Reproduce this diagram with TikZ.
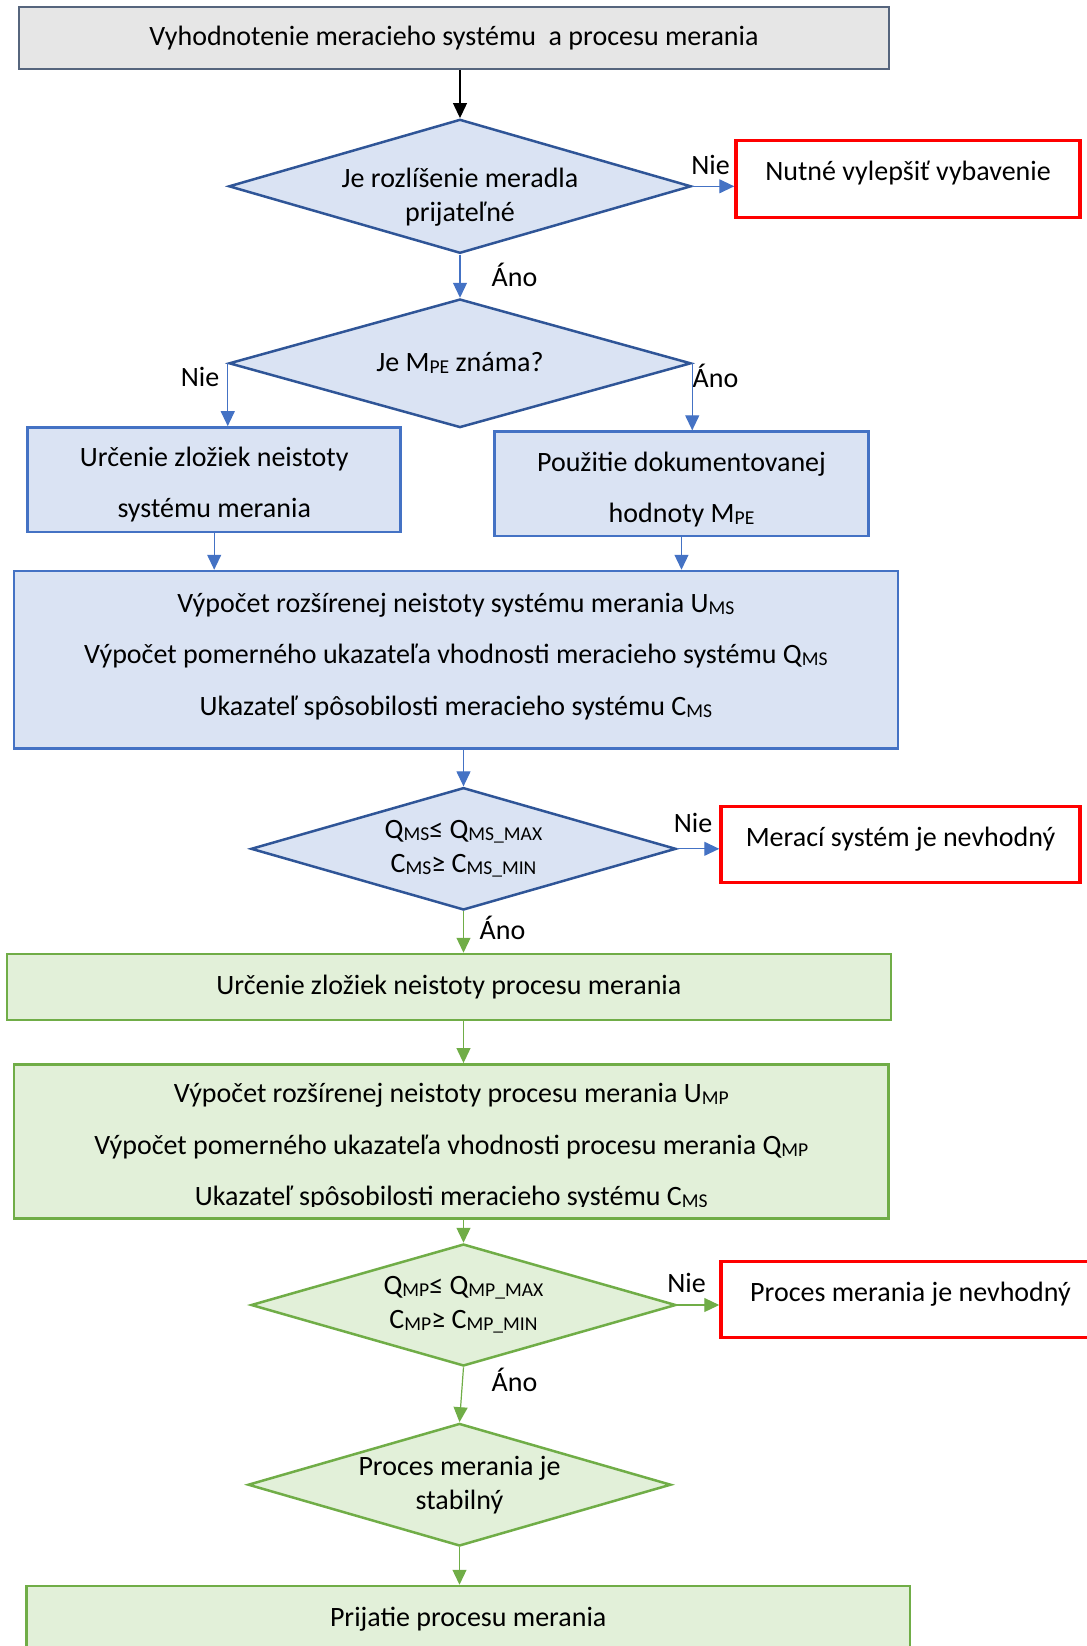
\documentclass[tikz,border=0pt]{standalone}
\usepackage{fontspec}
\setmainfont{Carlito}
\usepackage{tikz}
\usetikzlibrary{shapes.geometric}
\usetikzlibrary{arrows.meta}
\definecolor{sivaplocha}{HTML}{E6E6E6}
\definecolor{sivaciara}{HTML}{56657D}
\definecolor{modraplocha}{HTML}{DAE3F3}
\definecolor{modraciara}{HTML}{4472C4}
\definecolor{modratmava}{HTML}{2F5597}
\definecolor{zelenaplocha}{HTML}{E2F0D9}
\definecolor{zelenaciara}{HTML}{70AD47}
\newcommand{\idx}[1]{\raisebox{-0.15ex}{\fontsize{9.8}{10}\selectfont #1}}
\tikzset{
  blok/.style={rectangle, inner sep=0pt, align=center},
  sivybox/.style={blok, fill=sivaplocha, draw=sivaciara, line width=1pt},
  modrybox/.style={blok, fill=modraplocha, draw=modraciara, line width=1.25pt},
  zelenybox/.style={blok, fill=zelenaplocha, draw=zelenaciara, line width=1.25pt},
  cervenybox/.style={blok, fill=white, draw=red, line width=1.75pt, text depth=7.9pt},
  otazka/.style={diamond, inner sep=0pt, align=center, line width=1.25pt, aspect=3.5},
  modraotazka/.style={otazka, fill=modraplocha, draw=modratmava},
  zelenaotazka/.style={otazka, fill=zelenaplocha, draw=zelenaciara},
  sipka/.style={-{Triangle[width=7pt,length=7.5pt]}, line width=0.6pt},
  popis/.style={inner sep=0pt}
}
\begin{document}
\begin{tikzpicture}[x=0.5pt, y=-0.5pt, font=\fontsize{14}{17}\selectfont]
  \useasboundingbox (0,0) rectangle (1087,1646);
  % uvodny blok a prva otazka
  \node[sivybox, minimum width=434.6pt, minimum height=31pt] (vyhodnotenie) at (454,38.3)
    {Vyhodnotenie meracieho systému~ a procesu merania};
  \node[modraotazka, minimum width=231.2pt, minimum height=67pt] (rozlisenie) at (460,186.3) {};
  \node[blok] (rozlisenieText) at (460,197.6) {Je rozlíšenie meradla\\prijateľné};
  \node[cervenybox, minimum width=172pt, minimum height=38.3pt] (vylepsit) at (908,179)
    {Nutné vylepšiť vybavenie};
  \node[modraotazka, minimum width=231pt, minimum height=64.3pt] (mpe) at (460,363.3)
    {Je M\idx{PE} známa?};
  \node[modrybox, minimum width=186.5pt, minimum height=52.3pt] (zlozkyMS) at (214.2,479.7) {};
  \node[blok] (zlozkyMSText) at (214.2,485) {Určenie zložiek neistoty\\[8.5pt]systému merania};
  \node[modrybox, minimum width=187.2pt, minimum height=52.2pt] (dokument) at (681.5,483.8) {};
  \node[blok] (dokumentText) at (681.5,489.8) {Použitie dokumentovanej\\[8.5pt]hodnoty M\idx{PE}};
  \node[modrybox, minimum width=442pt, minimum height=88.7pt] (vypocetMS) at (455.9,659.7) {};
  \node[blok] (vypocetMSText) at (455.9,656.6)
    {Výpočet rozšírenej neistoty systému merania U\idx{MS}\\[8.8pt]
     Výpočet pomerného ukazateľa vhodnosti meracieho systému Q\idx{MS}\\[8.8pt]
     Ukazateľ spôsobilosti meracieho systému C\idx{MS}};
  \node[modraotazka, minimum width=212.5pt, minimum height=61.2pt] (kriteriumMS) at (463.5,848.8)
    {Q\idx{MS}≤ Q\idx{MS\_MAX}\\C\idx{MS}≥ C\idx{MS\_MIN}};
  \node[cervenybox, minimum width=179.5pt, minimum height=38pt] (nevhodnyMS) at (900.5,844.7)
    {Merací systém je nevhodný};
  % cast procesu merania
  \node[zelenybox, minimum width=441.9pt, minimum height=33pt] (zlozkyMP) at (448.9,987)
    {Určenie zložiek neistoty procesu merania};
  \node[zelenybox, minimum width=437.4pt, minimum height=77pt] (vypocetMP) at (451.3,1141.3) {};
  \begin{scope}
    \clip (vypocetMP.north west) rectangle ([yshift=6.5pt]vypocetMP.south east);
    \node[blok] (vypocetMPText) at (451.3,1146.7)
      {Výpočet rozšírenej neistoty procesu merania U\idx{MP}\\[8.8pt]
       Výpočet pomerného ukazateľa vhodnosti procesu merania Q\idx{MP}\\[8.8pt]
       Ukazateľ spôsobilosti meracieho systému C\idx{MS}};
  \end{scope}
  \node[zelenaotazka, minimum width=212.5pt, minimum height=61pt] (kriteriumMP) at (463.5,1305)
    {Q\idx{MP}≤ Q\idx{MP\_MAX}\\C\idx{MP}≥ C\idx{MP\_MIN}};
  \node[cervenybox, minimum width=189.5pt, minimum height=38pt] (nevhodnyMP) at (910.5,1299.7)
    {Proces merania je nevhodný};
  \node[zelenaotazka, minimum width=211.5pt, minimum height=61.3pt] (stabilny) at (459.5,1484.7)
    {Proces merania je\\stabilný};
  \node[zelenybox, minimum width=441.8pt, minimum height=33pt] (prijatie) at (468.2,1619)
    {Prijatie procesu merania};
  % popisy vetiev
  \node[popis] (nie1) at (710.5,165) {Nie};
  \node[popis] (ano1) at (514.5,275) {Áno};
  \node[popis] (nie2) at (200,376.7) {Nie};
  \node[popis] (ano2) at (715.5,376) {Áno};
  \node[popis] (nie3) at (693,823) {Nie};
  \node[popis] (ano3) at (502.5,927.5) {Áno};
  \node[popis] (nie4) at (686.6,1283.3) {Nie};
  \node[popis] (ano4) at (514.5,1380) {Áno};
  % spojnice
  \draw[sipka, black] (vyhodnotenie.south -| rozlisenie.north) -- (rozlisenie.north);
  \draw[sipka, modraciara] (rozlisenie.east) -- (rozlisenie.east -| vylepsit.west);
  \draw[sipka, modraciara] (rozlisenie.south) -- (mpe.north);
  \draw[sipka, modraciara] (mpe.west) -- (mpe.west |- zlozkyMS.north);
  \draw[sipka, modraciara] (mpe.east) -- (mpe.east |- dokument.north);
  \draw[sipka, modraciara] (zlozkyMS.south) -- (zlozkyMS.south |- vypocetMS.north);
  \draw[sipka, modraciara] (dokument.south) -- (dokument.south |- vypocetMS.north);
  \draw[sipka, modraciara] (vypocetMS.south -| kriteriumMS.north) -- (kriteriumMS.north);
  \draw[sipka, modraciara] (kriteriumMS.east) -- (kriteriumMS.east -| nevhodnyMS.west);
  \draw[sipka, zelenaciara] (kriteriumMS.south) -- (kriteriumMS.south |- zlozkyMP.north);
  \draw[sipka, zelenaciara] (zlozkyMP.south -| kriteriumMP.north) -- (vypocetMP.north -| kriteriumMP.north);
  \draw[sipka, zelenaciara] (vypocetMP.south -| kriteriumMP.north) -- (kriteriumMP.north);
  \draw[sipka, zelenaciara] (kriteriumMP.east) -- (kriteriumMP.east -| nevhodnyMP.west);
  \draw[sipka, zelenaciara] (kriteriumMP.south) -- (stabilny.north);
  \draw[sipka, zelenaciara] (stabilny.south) -- (stabilny.south |- prijatie.north);
\end{tikzpicture}
\end{document}
